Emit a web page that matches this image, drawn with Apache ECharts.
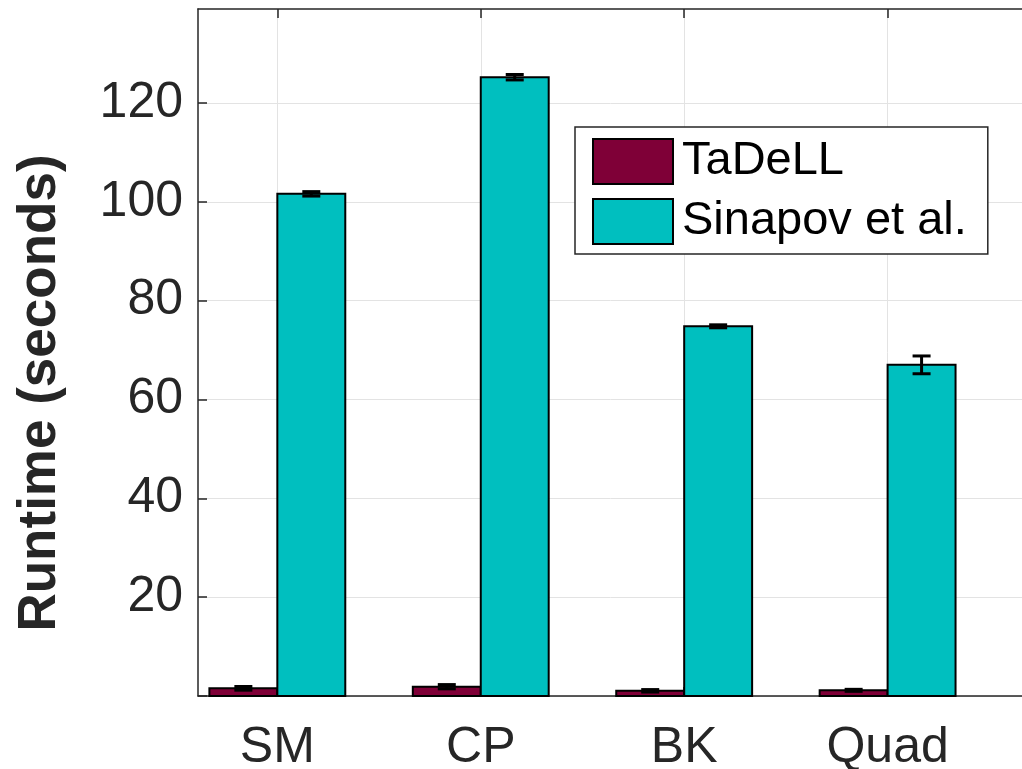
<!DOCTYPE html>
<html>
<head>
<meta charset="utf-8">
<script src="https://cdn.jsdelivr.net/npm/echarts@6/dist/echarts.min.js"></script>
<style>
  html, body { margin: 0; padding: 0; background: #fff; }
  #chart { width: 1022px; height: 769px; }
</style>
</head>
<body>
<div id="chart"></div>
<script>
// Runtime per domain, mean and error (seconds)
const categories = ['SM', 'CP', 'BK', 'Quad'];
const seriesNames = ['TaDeLL', 'Sinapov et al.'];
const tadellRuntime = [1.55, 1.88, 1.05, 1.15];
const tadellError = [0.37, 0.43, 0.25, 0.2];
const sinapovRuntime = [101.6, 125.2, 74.8, 67.0];
const sinapovError = [0.45, 0.55, 0.3, 1.8];
const yTickValues = [20, 40, 60, 80, 100, 120];
const categoryPositions = [1, 2, 3, 4];

const FONT = '"Liberation Sans", Arial, Helvetica, sans-serif';
const AXIS_COLOR = '#262626';
const GRID_COLOR = '#e3e3e3';
const BAR_WIDTH = 0.334;          // in category units
const CAP_HALF = 9;               // error-bar cap half width, px

function rows(values, errors) {
  return categoryPositions.map((p, i) => [p, values[i], errors[i]]);
}

function barWithError(offset, color) {
  return function (params, api) {
    const x = api.value(0) + offset;
    const v = api.value(1);
    const e = api.value(2);
    const tl = api.coord([x - BAR_WIDTH / 2, v]);
    const br = api.coord([x + BAR_WIDTH / 2, 0]);
    const hi = api.coord([x, v + e]);
    const lo = api.coord([x, v - e]);
    const errStyle = { stroke: '#000', lineWidth: 3 };
    return {
      type: 'group',
      children: [
        {
          type: 'rect',
          shape: { x: tl[0], y: tl[1], width: br[0] - tl[0], height: br[1] - tl[1] },
          style: { fill: color, stroke: '#000', lineWidth: 2 }
        },
        { type: 'line', shape: { x1: hi[0], y1: hi[1], x2: lo[0], y2: lo[1] }, style: errStyle },
        { type: 'line', shape: { x1: hi[0] - CAP_HALF, y1: hi[1], x2: hi[0] + CAP_HALF, y2: hi[1] }, style: errStyle },
        { type: 'line', shape: { x1: lo[0] - CAP_HALF, y1: lo[1], x2: lo[0] + CAP_HALF, y2: lo[1] }, style: errStyle }
      ]
    };
  };
}

const COLORS = ['#7f0037', '#00bfbf'];

const chart = echarts.init(document.getElementById('chart'), null, { renderer: 'canvas' });

chart.setOption({
  animation: false,
  backgroundColor: '#fff',
  grid: { left: 198, top: 9, right: -8, bottom: 73, containLabel: false, outerBoundsMode: 'none' },
  xAxis: [
    {
      type: 'value', position: 'bottom', min: 0.61, max: 4.7,
      axisLine: { show: true, lineStyle: { color: AXIS_COLOR, width: 1.5 } },
      axisTick: { show: true, inside: true, length: 9, customValues: categoryPositions,
                  lineStyle: { color: AXIS_COLOR, width: 1.5 } },
      axisLabel: {
        customValues: categoryPositions,
        formatter: v => categories[Math.round(v) - 1] || '',
        fontFamily: FONT, fontSize: 50, color: AXIS_COLOR, margin: 27
      },
      splitLine: { show: true, lineStyle: { color: GRID_COLOR, width: 1 } }
    },
    {
      type: 'value', position: 'top', min: 0.61, max: 4.7,
      axisLine: { show: true, lineStyle: { color: AXIS_COLOR, width: 1.5 } },
      axisTick: { show: true, inside: true, length: 9, customValues: categoryPositions,
                  lineStyle: { color: AXIS_COLOR, width: 1.5 } },
      axisLabel: { show: false },
      splitLine: { show: false }
    }
  ],
  yAxis: {
    type: 'value', min: 0, max: 139, interval: 20,
    axisLine: { show: true, lineStyle: { color: AXIS_COLOR, width: 1.5 } },
    axisTick: { show: true, inside: true, length: 9, customValues: [0].concat(yTickValues),
                lineStyle: { color: AXIS_COLOR, width: 1.5 } },
    axisLabel: {
      customValues: yTickValues,
      formatter: v => (yTickValues.indexOf(v) >= 0 ? String(v) : ''),
      fontFamily: FONT, fontSize: 50, color: AXIS_COLOR, margin: 15
    },
    splitLine: { show: true, lineStyle: { color: GRID_COLOR, width: 1 } }
  },
  legend: {
    orient: 'vertical', left: 575, top: 127,
    itemWidth: 80, itemHeight: 45, itemGap: 13,
    padding: [11, 21, 9, 17],
    borderColor: AXIS_COLOR, borderWidth: 1.5, backgroundColor: '#fff',
    textStyle: { fontFamily: FONT, fontSize: 47, lineHeight: 45, color: '#000', padding: [0, 0, 0, 4] },
    data: seriesNames.map((n, i) => ({
      name: n, icon: 'rect',
      itemStyle: { color: COLORS[i], borderColor: '#000', borderWidth: 2 }
    }))
  },
  graphic: [
    {
      type: 'text', x: 40, y: 393, rotation: Math.PI / 2,
      style: {
        text: 'Runtime (seconds)',
        font: 'bold 53px ' + FONT,
        fill: AXIS_COLOR,
        align: 'center', verticalAlign: 'middle',
        textAlign: 'center', textVerticalAlign: 'middle'
      }
    }
  ],
  series: [
    {
      name: seriesNames[0], type: 'custom', xAxisIndex: 0,
      itemStyle: { color: COLORS[0] },
      renderItem: barWithError(-BAR_WIDTH / 2, COLORS[0]),
      encode: { x: 0, y: 1 },
      data: rows(tadellRuntime, tadellError)
    },
    {
      name: seriesNames[1], type: 'custom', xAxisIndex: 0,
      itemStyle: { color: COLORS[1] },
      renderItem: barWithError(BAR_WIDTH / 2, COLORS[1]),
      encode: { x: 0, y: 1 },
      data: rows(sinapovRuntime, sinapovError)
    }
  ]
});
</script>
</body>
</html>
